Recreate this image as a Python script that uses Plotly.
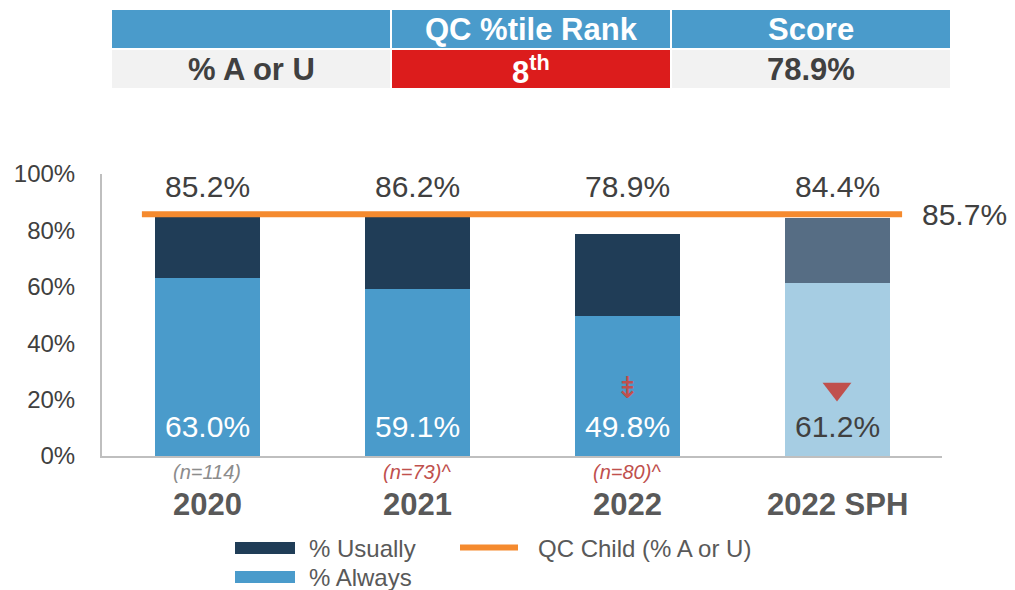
import plotly.graph_objects as go

categories = ["2020", "2021", "2022", "2022 SPH"]
always = [63.0, 59.1, 49.8, 61.2]
usually = [22.2, 27.1, 29.1, 23.2]
totals = [85.2, 86.2, 78.9, 84.4]
qc_child = 85.7
n_labels = ["(n=114)", "(n=73)^", "(n=80)^", ""]
n_colors = ["#8C8C8C", "#C0504D", "#C0504D", "#C0504D"]
yticks = [0, 20, 40, 60, 80, 100]

table_header = ["", "QC %tile Rank", "Score"]
table_row = ["% A or U", "8<sup>th</sup>", "78.9%"]

series_names = ["% Usually", "% Always", "QC Child (% A or U)"]

BLUE, NAVY, ORANGE = "#4A9BCB", "#203D57", "#F58A2E"
always_colors = [BLUE, BLUE, BLUE, "#A6CDE3"]
usually_colors = [NAVY, NAVY, NAVY, "#566D84"]
inner_text_colors = ["white", "white", "white", "#404040"]

FONT = "Arial, Liberation Sans, sans-serif"
OFF = 8  # page body margin
W, H = 1015 - OFF, 590 - OFF
L, R, T, B = 102 - OFF, 942 - OFF, 174 - OFF, 456 - OFF
PW, PH = R - L, B - T


def px(xp):
    return (xp - OFF - L) / PW


def py(yp):
    return (B - (yp - OFF)) / PH


fig = go.Figure()
fig.add_trace(go.Bar(x=categories, y=always, name=series_names[1], width=0.5,
                     marker=dict(color=always_colors, line=dict(width=0)),
                     showlegend=False, hoverinfo="skip"))
fig.add_trace(go.Bar(x=categories, y=usually, name=series_names[0], width=0.5,
                     marker=dict(color=usually_colors, line=dict(width=0)),
                     showlegend=False, hoverinfo="skip"))
fig.add_trace(go.Scatter(x=[-0.31, 3.31], y=[qc_child, qc_child], mode="lines",
                         xaxis="x2", name=series_names[2], showlegend=False,
                         line=dict(color=ORANGE, width=6)))
fig.add_trace(go.Scatter(x=[categories[3]], y=[23.8], mode="markers",
                         marker=dict(symbol="triangle-down", size=25, color="#C0504D"),
                         showlegend=False, hoverinfo="skip"))

ann = []
for i, c in enumerate(categories):
    ann.append(dict(x=i, y=95.4, xref="x2", yref="y", text=f"{totals[i]:.1f}%",
                    xanchor="center", yanchor="middle",
                    showarrow=False, font=dict(family=FONT, size=30, color="#404040")))
    ann.append(dict(x=i, y=10.3, xref="x2", yref="y", text=f"{always[i]:.1f}%",
                    xanchor="center", yanchor="middle",
                    showarrow=False, font=dict(family=FONT, size=30, color=inner_text_colors[i])))
    if n_labels[i]:
        ann.append(dict(x=i, y=py(472), xref="x2", yref="paper", text=f"<i>{n_labels[i]}</i>",
                        xanchor="center", yanchor="middle",
                        showarrow=False, font=dict(family=FONT, size=20, color=n_colors[i])))
    ann.append(dict(x=i, y=py(504), xref="x2", yref="paper", text=f"<b>{c}</b>",
                    xanchor="center", yanchor="middle",
                    showarrow=False, font=dict(family=FONT, size=31, color="#595959")))
ann.append(dict(x=2, y=24.3, xref="x2", yref="y", text="⇟", showarrow=False,
                xanchor="center", yanchor="middle",
                font=dict(family="DejaVu Sans", size=30, color="#C0504D")))
ann.append(dict(x=px(920), y=qc_child, xref="paper", yref="y", text=f"{qc_child}%",
                xanchor="left", yanchor="middle", showarrow=False,
                font=dict(family=FONT, size=30, color="#404040")))

shapes = []
# top table
cols = [(112, 390), (392, 670), (672, 950)]
row_fill2 = ["#F2F2F2", "#DC1C1C", "#F2F2F2"]
row_text2 = ["#404040", "white", "#404040"]
for j, (x0, x1) in enumerate(cols):
    shapes.append(dict(type="rect", xref="paper", yref="paper", x0=px(x0), x1=px(x1),
                       y0=py(48), y1=py(10), fillcolor=BLUE, line=dict(width=0), layer="below"))
    shapes.append(dict(type="rect", xref="paper", yref="paper", x0=px(x0), x1=px(x1),
                       y0=py(88), y1=py(50), fillcolor=row_fill2[j], line=dict(width=0), layer="below"))
    xc = px((x0 + x1) / 2)
    if table_header[j]:
        ann.append(dict(x=xc, y=py(30), xref="paper", yref="paper", text=f"<b>{table_header[j]}</b>",
                        xanchor="center", yanchor="middle",
                        showarrow=False, font=dict(family=FONT, size=31, color="white")))
    ann.append(dict(x=xc, y=py(70), xref="paper", yref="paper", text=f"<b>{table_row[j]}</b>",
                    xanchor="center", yanchor="middle",
                    showarrow=False, font=dict(family=FONT, size=31, color=row_text2[j])))

# legend (drawn)
leg_font = dict(family=FONT, size=24, color="#595959")
for name, color, yc in [(series_names[0], NAVY, 548), (series_names[1], BLUE, 577)]:
    shapes.append(dict(type="rect", xref="paper", yref="paper", x0=px(235), x1=px(295),
                       y0=py(yc + 6), y1=py(yc - 6), fillcolor=color, line=dict(width=0)))
    ann.append(dict(x=px(307), y=py(yc), xref="paper", yref="paper", text=name,
                    xanchor="left", yanchor="middle", showarrow=False, font=leg_font))
shapes.append(dict(type="line", xref="paper", yref="paper", x0=px(460), x1=px(518),
                   y0=py(547.5), y1=py(547.5), line=dict(color=ORANGE, width=6)))
ann.append(dict(x=px(536), y=py(548), xref="paper", yref="paper", text=series_names[2],
                xanchor="left", yanchor="middle", showarrow=False, font=leg_font))

fig.update_layout(
    width=W, height=H,
    margin=dict(l=L, r=W - R, t=T, b=H - B, autoexpand=False),
    paper_bgcolor="white", plot_bgcolor="white",
    barmode="stack", bargap=0.5, showlegend=False,
    font=dict(family=FONT, color="#404040"),
    xaxis=dict(type="category", range=[-0.5, 3.5], showticklabels=False, ticks="",
               showline=True, linecolor="#BFBFBF", linewidth=2, showgrid=False, zeroline=False),
    xaxis2=dict(overlaying="x", range=[-0.5, 3.5], visible=False, showgrid=False),
    yaxis=dict(range=[0, 100], tickvals=yticks, ticktext=[f"{v}%" for v in yticks],
               showgrid=False, zeroline=False, showline=True, linecolor="#BFBFBF", linewidth=2,
               ticks="outside", ticklen=20, tickcolor="rgba(0,0,0,0)",
               tickfont=dict(family=FONT, size=24, color="#404040")),
    annotations=ann, shapes=shapes,
)

fig.write_html("out.html")
